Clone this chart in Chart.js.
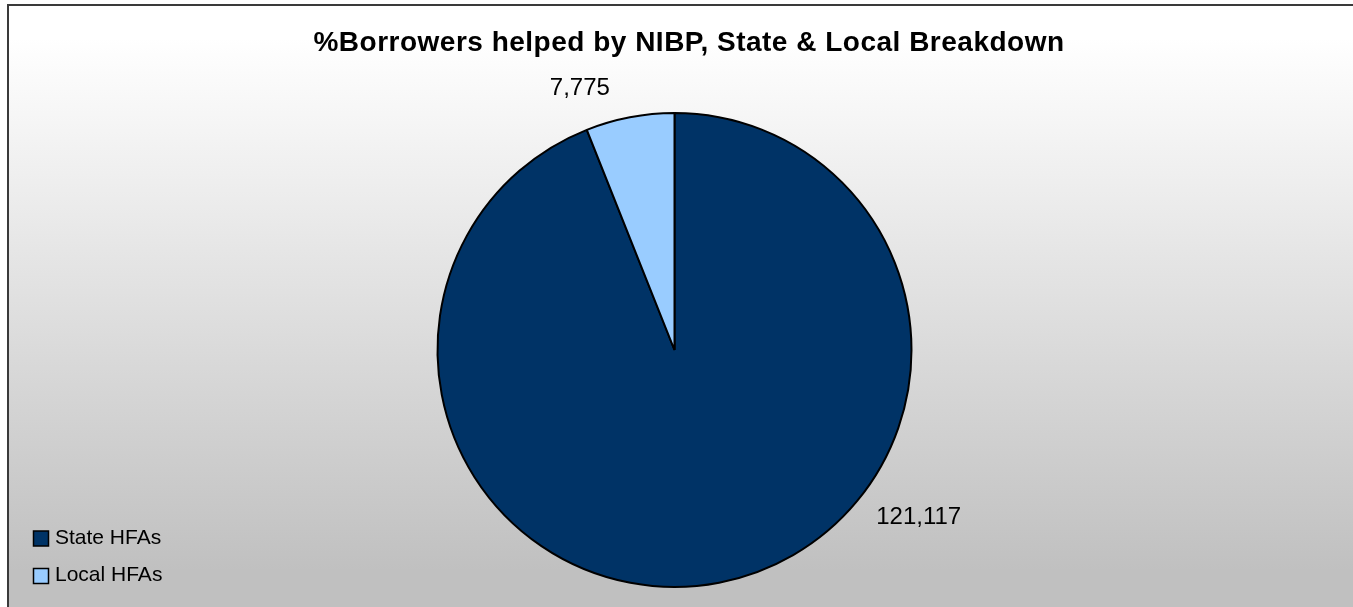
<!DOCTYPE html>
<html>
<head>
<meta charset="utf-8">
<title>NIBP Borrowers</title>
<script src="https://cdn.jsdelivr.net/npm/chart.js@4/dist/chart.umd.min.js"></script>
<style>
  html, body { margin: 0; padding: 0; background: #fff; overflow: hidden; }
  #frame {
    position: absolute; left: 7px; top: 4px;
    width: 1400px; height: 660px;
    border: 2px solid #3a3a3a;
    background: linear-gradient(to bottom, #ffffff 0px, #ffffff 32px, #c0c0c0 565px, #c0c0c0 100%);
  }
  #chart { position: absolute; left: 0; top: 0; }
</style>
</head>
<body>
<div id="frame"></div>
<canvas id="chart" width="1353" height="607"></canvas>
<script>
const chartTitle = '%Borrowers helped by NIBP, State & Local Breakdown';
const categories = ['State HFAs', 'Local HFAs'];
const borrowers = [121117, 7775];
const sliceColors = ['#003366', '#99CCFF'];

const FONT = '"Liberation Sans", Arial, sans-serif';

// title, value labels and legend are painted on top of the pie
const decorations = {
  id: 'decorations',
  afterDraw(chart, args, opts) {
    const ctx = chart.ctx;
    const meta = chart.getDatasetMeta(0);
    const ds = chart.data.datasets[0];
    ctx.save();
    ctx.fillStyle = '#000';

    // title
    ctx.font = 'bold 28px ' + FONT;
    ctx.letterSpacing = '0.5px';
    ctx.textAlign = 'center';
    ctx.textBaseline = 'alphabetic';
    ctx.fillText(chartTitle, opts.titleX, opts.titleY);
    ctx.letterSpacing = '0px';

    // value labels outside each slice
    ctx.font = '24px ' + FONT;
    ctx.textBaseline = 'middle';
    meta.data.forEach((arc, i) => {
      const place = opts.labels[i];
      const a = (place.angle - 90) * Math.PI / 180;
      const x = arc.x + Math.cos(a) * place.dist;
      const y = arc.y + Math.sin(a) * place.dist;
      ctx.fillText(ds.data[i].toLocaleString('en-US'), x, y);
    });

    // legend, bottom left
    ctx.font = '21px ' + FONT;
    ctx.textAlign = 'left';
    ctx.textBaseline = 'alphabetic';
    ctx.lineWidth = 1.5;
    ctx.strokeStyle = '#000';
    chart.data.labels.forEach((label, i) => {
      const top = opts.legendTop + i * opts.legendStep;
      ctx.fillStyle = ds.backgroundColor[i];
      ctx.fillRect(33.5, top, 15, 15);
      ctx.strokeRect(33.5, top, 15, 15);
      ctx.fillStyle = '#000';
      ctx.fillText(label, 55, top + 12.5);
    });
    ctx.restore();
  }
};

new Chart(document.getElementById('chart'), {
  type: 'pie',
  data: {
    labels: categories,
    datasets: [{
      data: borrowers,
      backgroundColor: sliceColors,
      borderColor: '#000',
      borderWidth: 2
    }]
  },
  options: {
    responsive: false,
    animation: false,
    radius: 237,
    layout: { padding: { left: 0, right: 4, top: 100, bottom: 7 } },
    plugins: {
      legend: { display: false },
      tooltip: { enabled: false },
      decorations: {
        titleX: 689,
        titleY: 51,
        labels: [
          { angle: 124.4, dist: 296 },
          { angle: 340.1, dist: 278 }
        ],
        legendTop: 531,
        legendStep: 37.5
      }
    }
  },
  plugins: [decorations]
});
</script>
</body>
</html>
